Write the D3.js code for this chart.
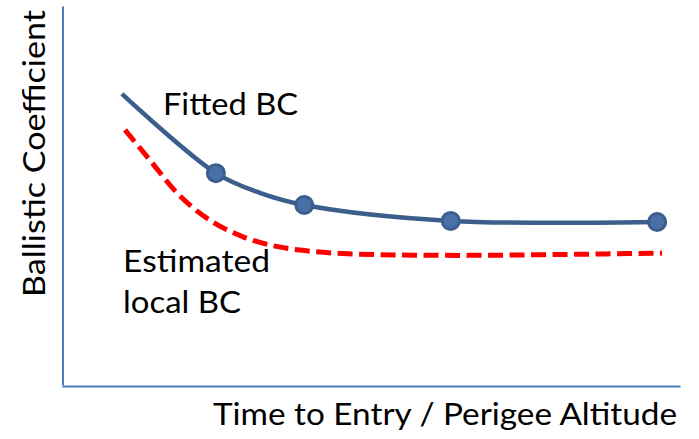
<!DOCTYPE html>
<html>
<head>
<meta charset="utf-8">
<script src="https://cdn.jsdelivr.net/npm/d3@7"></script>
<style>
  html, body { margin: 0; padding: 0; background: #fff; }
  text { font-family: Lato, "Open Sans", sans-serif; fill: #000; }
</style>
</head>
<body>
<svg id="chart" width="699" height="439"></svg>
<script>
// ---- data (arbitrary units, 0..100 on both axes) ----
const fittedX = [9.7, 24.9, 32.0, 39.2, 62.9, 96.3];
const fittedY = [76.8, 55.9, 50.7, 47.5, 43.3, 43.0];
const markerX = [24.9, 39.2, 62.9, 96.3];
const markerY = [55.9, 47.5, 43.3, 43.0];
const localX = [10.2, 14.2, 18.6, 23.9, 29.3, 33.7, 38.5, 43.9, 54.7, 64.4, 79.0, 97.1];
const localY = [67.3, 59.4, 50.7, 43.5, 39.1, 36.9, 35.6, 34.8, 34.3, 34.2, 34.4, 34.8];
const xTitle = "Time to Entry / Perigee Altitude";
const yTitle = "Ballistic Coefficient";
const fittedLabel = ["Fitted BC"];
const localLabel = ["Estimated", "local BC"];

const svg = d3.select("#chart");
const x = d3.scaleLinear().domain([0, 100]).range([62, 680]);
const y = d3.scaleLinear().domain([0, 100]).range([385, 6]);

const axisColor = "#4a7ebb";
const lineColor = "#3b5e8c";
const FS = 30.5;

// axes (no ticks)
const gx = svg.append("g").attr("transform", "translate(0,386)")
  .call(d3.axisBottom(x).ticks(0).tickSizeOuter(0));
gx.select(".domain").attr("stroke", axisColor).attr("stroke-width", 2.2);
const gy = svg.append("g").attr("transform", "translate(62.5,0)")
  .call(d3.axisLeft(y).ticks(0).tickSizeOuter(0));
gy.select(".domain").attr("stroke", axisColor).attr("stroke-width", 2);

// red dashed estimated local BC
const localLine = d3.line().x(d => x(d[0])).y(d => y(d[1])).curve(d3.curveMonotoneX);
svg.append("path")
  .datum(localX.map((v, i) => [v, localY[i]]))
  .attr("d", localLine)
  .attr("fill", "none")
  .attr("stroke", "#ff0000")
  .attr("stroke-width", 5)
  .attr("stroke-dasharray", "15,6.5");

// blue fitted BC
const fitLine = d3.line().x(d => x(d[0])).y(d => y(d[1])).curve(d3.curveCatmullRom.alpha(0.5));
svg.append("path")
  .datum(fittedX.map((v, i) => [v, fittedY[i]]))
  .attr("d", fitLine)
  .attr("fill", "none")
  .attr("stroke", lineColor)
  .attr("stroke-width", 4.5)
  .attr("stroke-linecap", "butt");

svg.selectAll("circle.m")
  .data(markerX.map((v, i) => [v, markerY[i]]))
  .enter().append("circle")
  .attr("class", "m")
  .attr("cx", d => x(d[0]))
  .attr("cy", d => y(d[1]))
  .attr("r", 8.5)
  .attr("fill", "#4a70a8")
  .attr("stroke", lineColor)
  .attr("stroke-width", 3);

// titles
svg.append("text")
  .attr("x", 213).attr("y", 425)
  .attr("font-size", FS)
  .attr("textLength", 464).attr("lengthAdjust", "spacingAndGlyphs")
  .text(xTitle);

svg.append("text")
  .attr("transform", "translate(45,297) rotate(-90)")
  .attr("font-size", FS)
  .attr("textLength", 287).attr("lengthAdjust", "spacingAndGlyphs")
  .text(yTitle);

// annotations
svg.append("text")
  .attr("x", 163).attr("y", 115)
  .attr("font-size", FS)
  .attr("textLength", 135).attr("lengthAdjust", "spacingAndGlyphs")
  .text(fittedLabel[0]);

const localWidths = [147, 118];
svg.selectAll("text.local").data(localLabel).enter().append("text")
  .attr("class", "local")
  .attr("x", 123)
  .attr("y", (d, i) => 272 + i * 41)
  .attr("font-size", FS)
  .attr("textLength", (d, i) => localWidths[i]).attr("lengthAdjust", "spacingAndGlyphs")
  .text(d => d);
</script>
</body>
</html>
